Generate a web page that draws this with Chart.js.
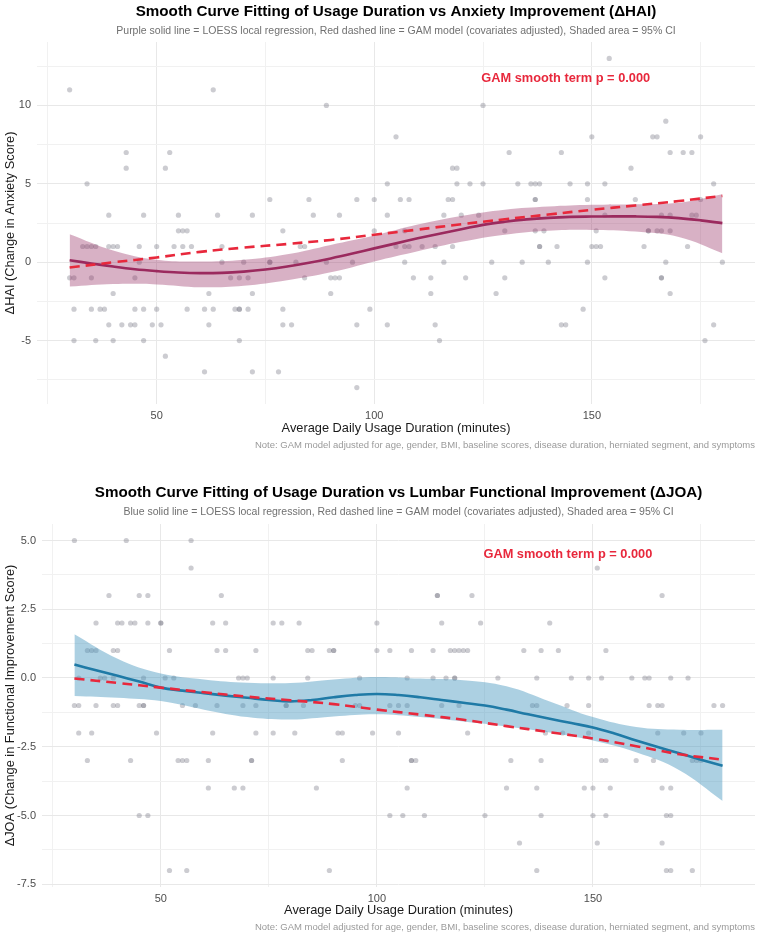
<!DOCTYPE html>
<html>
<head>
<meta charset="utf-8">
<title>Smooth Curve Fitting - Usage Duration</title>
<script src="https://cdn.jsdelivr.net/npm/chart.js@4.4.1/dist/chart.umd.min.js"></script>
<style>
    body { margin: 0; background: #fff; }
    .panel { position: absolute; left: 0; }
</style>
</head>
<body>
<div class="panel" style="top:0"><canvas id="chart-hai" width="760" height="468"></canvas></div>
<div class="panel" style="top:468px"><canvas id="chart-joa" width="760" height="469"></canvas></div>
<script>
// ---- data ----

// x axis ticks (shared)
const xTicks = [25, 50, 75, 100, 125, 150, 175];
const xLabels = [50, 100, 150];

// ΔHAI panel
const haiTicks = [-7.5, -5, -2.5, 0, 2.5, 5, 7.5, 10, 12.5];
const haiLabels = [-5, 0, 5, 10];

// raw points, grouped by row (same y) to keep it readable
const haiX = [
    154,
    30, 63,
    89, 125,
    167,
    105, 150, 164, 165, 175,
    43, 53, 131, 143, 168, 171, 173,
    43, 52, 118, 119, 159,
    34, 103, 119, 122, 125, 133, 136, 137, 138, 145, 149, 153, 178,
    76, 85, 96, 100, 106, 108, 117, 118, 137, 137, 149, 160, 175,
    39, 47, 55, 64, 72, 86, 92, 103, 116, 120, 124, 153, 166, 168, 173, 174,
    55, 56, 57, 79, 100, 107, 130, 137, 139, 151, 163, 163, 165, 166, 168,
    33, 34, 35, 36, 39, 40, 41, 46, 50, 54, 56, 58, 65, 83, 84, 105, 107, 108, 111, 114, 118, 138, 138, 142, 150, 151, 152, 162, 172,
    46, 65, 70, 76, 76, 82, 89, 95, 107, 116, 127, 134, 140, 149, 167, 180,
    30, 31, 35, 45, 67, 69, 71, 84, 90, 91, 92, 109, 113, 121, 130, 153, 166, 166,
    40, 62, 72, 90, 113, 128, 168,
    31, 35, 37, 38, 45, 47, 50, 57, 61, 63, 68, 69, 69, 71, 79, 99, 148,
    39, 42, 44, 45, 49, 51, 62, 79, 81, 96, 103, 114, 143, 144, 178,
    31, 36, 40, 47, 69, 115, 176,
    52,
    61, 72, 78,
    96
];
const haiY = [
    13,
    11, 11,
    10, 10,
    9,
    8, 8, 8, 8, 8,
    7, 7, 7, 7, 7, 7, 7,
    6, 6, 6, 6, 6,
    5, 5, 5, 5, 5, 5, 5, 5, 5, 5, 5, 5, 5,
    4, 4, 4, 4, 4, 4, 4, 4, 4, 4, 4, 4, 4,
    3, 3, 3, 3, 3, 3, 3, 3, 3, 3, 3, 3, 3, 3, 3, 3,
    2, 2, 2, 2, 2, 2, 2, 2, 2, 2, 2, 2, 2, 2, 2,
    1, 1, 1, 1, 1, 1, 1, 1, 1, 1, 1, 1, 1, 1, 1, 1, 1, 1, 1, 1, 1, 1, 1, 1, 1, 1, 1, 1, 1,
    0, 0, 0, 0, 0, 0, 0, 0, 0, 0, 0, 0, 0, 0, 0, 0,
    -1, -1, -1, -1, -1, -1, -1, -1, -1, -1, -1, -1, -1, -1, -1, -1, -1, -1,
    -2, -2, -2, -2, -2, -2, -2,
    -3, -3, -3, -3, -3, -3, -3, -3, -3, -3, -3, -3, -3, -3, -3, -3, -3,
    -4, -4, -4, -4, -4, -4, -4, -4, -4, -4, -4, -4, -4, -4, -4,
    -5, -5, -5, -5, -5, -5, -5,
    -6,
    -7, -7, -7,
    -8
];

// fitted curves
const loessX = [30, 35, 40, 45, 50, 55, 60, 65, 70, 75, 80, 85, 90, 95, 100, 105, 110, 115, 120, 125, 130, 135, 140, 145, 150, 155, 160, 165, 170, 175, 180];
const haiLoess = [0.12, -0.08, -0.28, -0.45, -0.57, -0.66, -0.70, -0.68, -0.60, -0.47, -0.28, -0.04, 0.24, 0.55, 0.88, 1.20, 1.52, 1.82, 2.10, 2.38, 2.58, 2.73, 2.83, 2.89, 2.91, 2.92, 2.92, 2.89, 2.81, 2.67, 2.49];
const bandX = [30, 40, 50, 60, 70, 80, 90, 100, 110, 120, 130, 140, 150, 160, 170, 180];
const haiUpper = [1.79, 0.75, 0.15, 0.04, 0.15, 0.50, 1.10, 1.70, 2.40, 2.95, 3.35, 3.55, 3.66, 3.70, 3.80, 4.34];
const haiLower = [-1.56, -1.40, -1.42, -1.60, -1.50, -1.15, -0.65, 0.05, 0.70, 1.30, 1.75, 2.00, 2.06, 1.95, 1.60, 0.57];
const haiGam = [-0.34, -0.01, 0.30, 0.66, 0.93, 1.16, 1.42, 1.75, 2.08, 2.42, 2.74, 3.04, 3.34, 3.62, 3.90, 4.23];

// ΔJOA panel
const joaTicks = [-7.5, -6.25, -5, -3.75, -2.5, -1.25, 0, 1.25, 2.5, 3.75, 5];
const joaLabels = [-7.5, -5, -2.5, 0, 2.5, 5];

const joaX = [
    30, 42, 57,
    57, 151,
    38, 45, 47, 64, 114, 114, 122, 166,
    35, 40, 41, 43, 44, 47, 50, 50, 62, 65, 76, 78, 82, 100, 115, 124, 140,
    33, 34, 35, 39, 40, 52, 63, 65, 72, 84, 85, 89, 90, 90, 100, 103, 108, 113, 117, 118, 119, 120, 121, 134, 138, 142, 153,
    31, 36, 37, 39, 46, 51, 53, 68, 69, 70, 76, 84, 96, 107, 113, 116, 118, 118, 128, 137, 145, 149, 152, 159, 162, 163, 168, 172,
    30, 31, 35, 39, 40, 45, 46, 46, 55, 58, 63, 69, 72, 79, 79, 83, 95, 96, 103, 105, 107, 115, 119, 136, 137, 144, 149, 163, 165, 166, 178, 180,
    31, 34, 49, 62, 72, 76, 81, 91, 92, 99, 105, 121, 139, 143, 149, 165, 171, 175,
    33, 43, 54, 55, 56, 61, 71, 71, 92, 108, 108, 109, 131, 138, 152, 153, 160, 164, 173, 174, 175,
    61, 67, 69, 86, 107, 130, 137, 148, 150, 154, 166, 168,
    45, 47, 103, 106, 111, 125, 138, 150, 153, 167, 168,
    133, 151, 166,
    52, 56, 89, 137, 167, 168, 173
];
const joaY = [
    5, 5, 5,
    4, 4,
    3, 3, 3, 3, 3, 3, 3, 3,
    2, 2, 2, 2, 2, 2, 2, 2, 2, 2, 2, 2, 2, 2, 2, 2, 2,
    1, 1, 1, 1, 1, 1, 1, 1, 1, 1, 1, 1, 1, 1, 1, 1, 1, 1, 1, 1, 1, 1, 1, 1, 1, 1, 1,
    0, 0, 0, 0, 0, 0, 0, 0, 0, 0, 0, 0, 0, 0, 0, 0, 0, 0, 0, 0, 0, 0, 0, 0, 0, 0, 0, 0,
    -1, -1, -1, -1, -1, -1, -1, -1, -1, -1, -1, -1, -1, -1, -1, -1, -1, -1, -1, -1, -1, -1, -1, -1, -1, -1, -1, -1, -1, -1, -1, -1,
    -2, -2, -2, -2, -2, -2, -2, -2, -2, -2, -2, -2, -2, -2, -2, -2, -2, -2,
    -3, -3, -3, -3, -3, -3, -3, -3, -3, -3, -3, -3, -3, -3, -3, -3, -3, -3, -3, -3, -3,
    -4, -4, -4, -4, -4, -4, -4, -4, -4, -4, -4, -4,
    -5, -5, -5, -5, -5, -5, -5, -5, -5, -5, -5,
    -6, -6, -6,
    -7, -7, -7, -7, -7, -7, -7
];

const joaLoess = [0.49, 0.28, 0.08, -0.13, -0.35, -0.46, -0.55, -0.64, -0.72, -0.80, -0.85, -0.80, -0.70, -0.62, -0.58, -0.62, -0.70, -0.80, -0.90, -1.00, -1.15, -1.32, -1.48, -1.64, -1.80, -2.02, -2.27, -2.51, -2.74, -2.97, -3.19];
const joaUpper = [1.59, 0.70, 0.16, -0.05, -0.17, -0.18, -0.05, 0.04, -0.02, -0.08, -0.30, -0.85, -1.42, -1.78, -1.88, -1.88];
const joaLower = [-0.65, -0.72, -0.84, -1.15, -1.42, -1.51, -1.40, -1.32, -1.42, -1.58, -1.76, -1.98, -2.27, -2.70, -3.35, -4.47];
const joaGam = [-0.02, -0.18, -0.35, -0.52, -0.68, -0.81, -0.95, -1.15, -1.33, -1.52, -1.75, -1.97, -2.20, -2.48, -2.77, -2.97];

// ---- style ----
const FONT = '"Liberation Sans", Arial, Helvetica, sans-serif';
const RED = '#e8283c';
const POINT = 'rgba(115,115,128,0.36)';

// zip x/y arrays into {x,y}
function pts(xs, ys) {
    return xs.map((x, i) => ({ x: x, y: ys[i] }));
}

// titles, note, p-value label (drawn on the canvas)
const panelText = {
    id: 'panelText',
    afterDraw(chart, args, opts) {
        const ctx = chart.ctx;
        const area = chart.chartArea;
        const cx = (area.left + area.right) / 2;
        ctx.save();
        ctx.textBaseline = 'middle';
        ctx.textAlign = 'center';

        ctx.fillStyle = '#000';
        ctx.font = 'bold 15.2px ' + FONT;
        ctx.fillText(opts.title, cx, opts.titleY);

        ctx.fillStyle = '#707070';
        ctx.font = '10.5px ' + FONT;
        ctx.fillText(opts.subtitle, cx, opts.subtitleY);

        // p value, placed in data coordinates
        ctx.fillStyle = RED;
        ctx.font = 'bold 12.8px ' + FONT;
        ctx.fillText(opts.pText, chart.scales.x.getPixelForValue(opts.pAt[0]), chart.scales.y.getPixelForValue(opts.pAt[1]));

        ctx.textAlign = 'right';
        ctx.fillStyle = '#9a9a9a';
        ctx.font = '9.5px ' + FONT;
        ctx.fillText(opts.note, area.right, opts.noteY);
        ctx.restore();
    }
};

const NOTE = 'Note: GAM model adjusted for age, gender, BMI, baseline scores, disease duration, herniated segment, and symptoms';

function makeChart(canvasId, cfg) {
    const ctx = document.getElementById(canvasId).getContext('2d');
    return new Chart(ctx, {
        type: 'scatter',
        data: {
            datasets: [
                {   // red dashed GAM
                    data: pts(bandX, cfg.gam),
                    showLine: true, borderColor: RED, borderWidth: 2.6, borderDash: [10, 6],
                    pointRadius: 0, tension: 0.4, fill: false, order: 1
                },
                {   // LOESS line
                    data: pts(loessX, cfg.loess),
                    showLine: true, borderColor: cfg.lineColor, borderWidth: 2.6,
                    pointRadius: 0, tension: 0.4, fill: false, order: 2
                },
                {   // CI upper, filled down to the next dataset
                    data: pts(bandX, cfg.upper),
                    showLine: true, borderColor: 'rgba(0,0,0,0)', borderWidth: 1,
                    backgroundColor: cfg.bandColor,
                    pointRadius: 0, tension: 0.4, fill: '+1', order: 3
                },
                {   // CI lower
                    data: pts(bandX, cfg.lower),
                    showLine: true, borderColor: 'rgba(0,0,0,0)', borderWidth: 1,
                    pointRadius: 0, tension: 0.4, fill: false, order: 3
                },
                {   // raw observations
                    data: pts(cfg.px, cfg.py),
                    pointRadius: 2.6, pointBackgroundColor: POINT, pointBorderWidth: 0,
                    order: 5
                }
            ]
        },
        options: {
            responsive: false,
            animation: false,
            layout: { padding: { top: cfg.top, right: 5, left: 0, bottom: 0 } },
            plugins: {
                legend: { display: false },
                tooltip: { enabled: false },
                panelText: cfg.text
            },
            scales: {
                x: {
                    type: 'linear', min: 22.5, max: 187.5,
                    afterBuildTicks: s => { s.ticks = xTicks.map(v => ({ value: v })); },
                    afterFit: s => { s.height = cfg.xHeight; },
                    border: { display: false },
                    grid: {
                        drawTicks: false,
                        color: c => xLabels.includes(c.tick.value) ? '#e8e8e8' : '#f1f1f1'
                    },
                    ticks: {
                        autoSkip: false, maxRotation: 0, padding: 5,
                        color: '#4d4d4d', font: { family: FONT, size: 11 },
                        callback: v => xLabels.includes(v) ? String(v) : ''
                    },
                    title: {
                        display: true, text: 'Average Daily Usage Duration (minutes)',
                        color: '#1a1a1a', font: { family: FONT, size: 12.8 },
                        padding: { top: 0, bottom: cfg.xTitlePad }
                    }
                },
                y: {
                    type: 'linear', min: cfg.yMin, max: cfg.yMax,
                    afterBuildTicks: s => { s.ticks = cfg.yTicks.map(v => ({ value: v })); },
                    afterFit: s => { s.width = cfg.yWidth; },
                    border: { display: false },
                    grid: {
                        drawTicks: false,
                        color: c => cfg.yLabels.includes(c.tick.value) ? '#e8e8e8' : '#f1f1f1'
                    },
                    ticks: {
                        autoSkip: false, padding: 6,
                        color: '#4d4d4d', font: { family: FONT, size: 11 },
                        callback: v => cfg.yLabels.includes(v) ? cfg.fmt(v) : ''
                    },
                    title: {
                        display: true, text: cfg.yTitle,
                        color: '#1a1a1a', font: { family: FONT, size: 12.8 },
                        padding: { top: 2.5, bottom: 0 }
                    }
                }
            }
        },
        plugins: [panelText]
    });
}

// 上のパネル ΔHAI
makeChart('chart-hai', {
    px: haiX, py: haiY, loess: haiLoess, upper: haiUpper, lower: haiLower, gam: haiGam,
    lineColor: '#9b2a5e', bandColor: 'rgba(153,51,102,0.38)',
    yMin: -9.05, yMax: 14.05, yTicks: haiTicks, yLabels: haiLabels, fmt: v => String(v),
    yTitle: 'ΔHAI (Change in Anxiety Score)',
    top: 42, yWidth: 37, xHeight: 64, xTitlePad: 32,
    text: {
        title: 'Smooth Curve Fitting of Usage Duration vs Anxiety Improvement (ΔHAI)',
        subtitle: 'Purple solid line = LOESS local regression, Red dashed line = GAM model (covariates adjusted), Shaded area = 95% CI',
        titleY: 12, subtitleY: 31, noteY: 445,
        pText: 'GAM smooth term p = 0.000', pAt: [144, 11.7],
        note: NOTE
    }
});

// 下のパネル ΔJOA
makeChart('chart-joa', {
    px: joaX, py: joaY, loess: joaLoess, upper: joaUpper, lower: joaLower, gam: joaGam,
    lineColor: '#1f7aa6', bandColor: 'rgba(70,150,190,0.45)',
    yMin: -7.6, yMax: 5.6, yTicks: joaTicks, yLabels: joaLabels, fmt: v => v.toFixed(1),
    yTitle: 'ΔJOA (Change in Functional Improvement Score)',
    top: 56, yWidth: 42, xHeight: 50, xTitlePad: 19,
    text: {
        title: 'Smooth Curve Fitting of Usage Duration vs Lumbar Functional Improvement (ΔJOA)',
        subtitle: 'Blue solid line = LOESS local regression, Red dashed line = GAM model (covariates adjusted), Shaded area = 95% CI',
        titleY: 24.5, subtitleY: 44.5, noteY: 459,
        pText: 'GAM smooth term p = 0.000', pAt: [144.2, 4.5],
        note: NOTE
    }
});
</script>
</body>
</html>
